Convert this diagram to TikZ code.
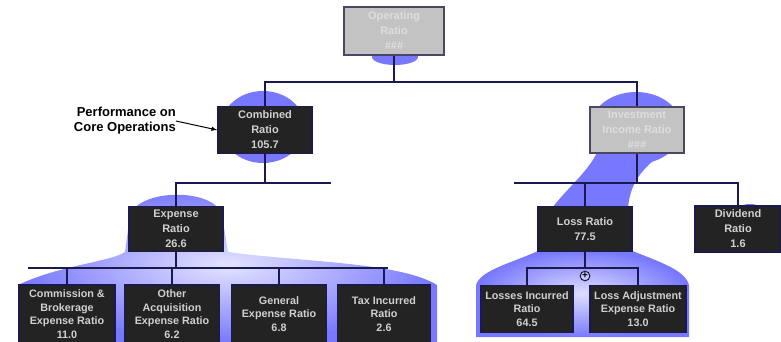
\documentclass[tikz,border=0pt]{standalone}
\usepackage{fontspec}
\setmainfont{Liberation Sans}
\usetikzlibrary{positioning,shapes,arrows}
\definecolor{navy}{HTML}{1A1A4E}
\definecolor{boxfill}{HTML}{232323}
\definecolor{boxtext}{HTML}{D0D0D0}
\definecolor{greyfill}{HTML}{C3C3C3}
\definecolor{greytext}{HTML}{DEDEDE}
\definecolor{glow}{HTML}{7878FF}

\begin{document}
\begin{tikzpicture}[x=1pt,y=-1pt]
\tikzstyle{rbox}=[draw=navy, line width=1.5pt, fill=boxfill, text=boxtext, align=center, inner sep=1pt, font=\bfseries\fontsize{11}{15}\selectfont]
\tikzstyle{gbox}=[rbox, draw=navy!55!gray, fill=greyfill, text=greytext]
\tikzstyle{leaf}=[rbox, font=\bfseries\fontsize{10.8}{13.5}\selectfont]
\tikzstyle{link}=[draw=navy, line width=1.8pt]
\useasboundingbox (0,0) rectangle (781,342);

% glow behind the boxes
\fill[glow] (395,57) ellipse (23 and 8);
\fill[glow] (263,127) ellipse (42 and 36);
\fill[glow] (636,128) ellipse (46 and 36);
\fill[glow] (598,150) -- (668,150) .. controls (640,168) and (630,185) .. (628,208) -- (552,208) .. controls (570,185) and (590,170) .. (598,150) -- cycle;
\shade[inner color=glow!20, outer color=glow] (130,215) .. controls (140,188) and (215,188) .. (222,215) -- (228,252) .. controls (300,262) and (400,262) .. (437,285) -- (437,342) -- (18,342) -- (18,285) .. controls (60,265) and (110,262) .. (125,252) -- cycle;
\shade[inner color=glow!25, outer color=glow] (540,250) -- (630,250) .. controls (660,262) and (685,270) .. (689,285) -- (689,337) -- (476,337) -- (476,285) .. controls (480,270) and (515,262) .. (540,250) -- cycle;
\fill[glow] (750,207) ellipse (9 and 3);

% boxes
\node[gbox, minimum width=100pt, minimum height=48pt] (opr) at (394,31) {Operating\\Ratio\\\#\#\#};
\node[rbox, minimum width=94pt, minimum height=47pt] (comb) at (265,130) {Combined\\Ratio\\105.7};
\node[gbox, minimum width=94pt, minimum height=46pt] (inv) at (637,130) {Investment\\Income Ratio\\\#\#\#};
\node[rbox, minimum width=94pt, minimum height=45pt] (exp) at (176,229) {Expense\\Ratio\\26.6};
\node[rbox, minimum width=94pt, minimum height=45pt] (loss) at (585,229) {Loss Ratio\\77.5};
\node[rbox, minimum width=86pt, minimum height=46pt] (div) at (738,229) {Dividend\\Ratio\\1.6};
\node[leaf, minimum width=96pt, minimum height=58pt] (com) at (67,314) {Commission \&\\Brokerage\\Expense Ratio\\11.0};
\node[leaf, minimum width=95pt, minimum height=58pt] (oth) at (172,314) {Other\\Acquisition\\Expense Ratio\\6.2};
\node[leaf, minimum width=95pt, minimum height=58pt] (gen) at (279,314) {General\\Expense Ratio\\6.8};
\node[leaf, minimum width=93pt, minimum height=58pt] (tax) at (384,314) {Tax Incurred\\Ratio\\2.6};
\node[leaf, minimum width=92pt, minimum height=47pt] (lin) at (527,309) {Losses Incurred\\Ratio\\64.5};
\node[leaf, minimum width=96pt, minimum height=47pt] (lae) at (638,309) {Loss Adjustment\\Expense Ratio\\13.0};

\node[font=\bfseries\fontsize{13}{15}\selectfont, align=right, anchor=east, inner sep=0pt] (perf) at (176,121) {Performance on\\Core Operations};
\draw[-latex, line width=1pt] (perf.east) -- (comb.west);

% connectors
\coordinate (b1) at (394,82);
\draw[link] (opr.south) -- (b1);
\draw[link] (comb.north) |- (b1) -| (inv.north);

\coordinate (b2) at (265,183);
\coordinate (b2e) at (331,183);
\draw[link] (comb.south) -- (b2);
\draw[link] (exp.north) |- (b2e);

\coordinate (b3) at (176,268);
\coordinate (b3w) at (28,268);
\coordinate (b3e) at (388,268);
\draw[link] (exp.south) -- (b3);
\draw[link] (b3w) -- (b3e);
\foreach \n in {com,oth,gen,tax}
  \draw[link] (\n.north) -- (\n.north |- b3);

\coordinate (b4) at (637,183);
\coordinate (b4w) at (514,183);
\draw[link] (inv.south) -- (b4);
\draw[link] (b4w) -| (div.north);
\draw[link] (loss.north) -- (loss.north |- b4);

\coordinate (b5) at (585,268);
\draw[link] (loss.south) -- (b5);
\draw[link] (lin.north) |- (b5) -| (lae.north);
\node[circle, draw=navy, fill=glow!40, line width=1pt, inner sep=0.5pt, font=\bfseries\fontsize{10}{10}\selectfont] (plus) at (585,276) {+};
\end{tikzpicture}
\end{document}
